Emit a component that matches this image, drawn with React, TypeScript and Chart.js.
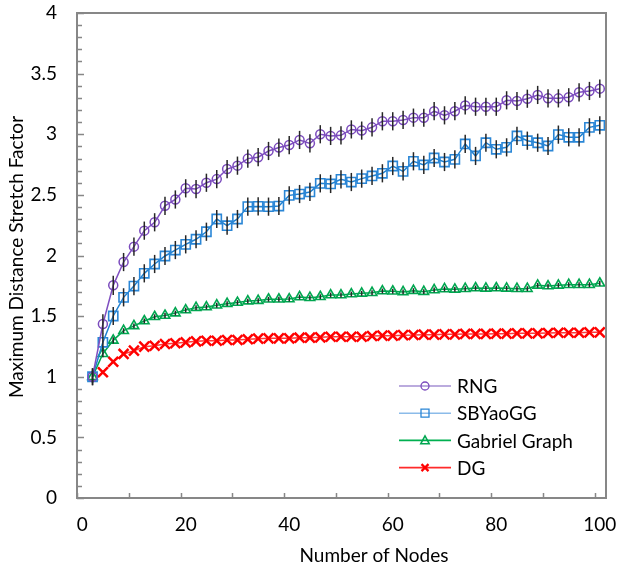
import { useEffect, useRef } from 'react';
import { Chart, registerables } from 'chart.js';

Chart.register(...registerables);

// ---- data ----
const nodes = [2, 4, 6, 8, 10, 12, 14, 16, 18, 20, 22, 24, 26, 28, 30, 32, 34, 36, 38, 40, 42, 44, 46, 48, 50, 52, 54, 56, 58, 60, 62, 64, 66, 68, 70, 72, 74, 76, 78, 80, 82, 84, 86, 88, 90, 92, 94, 96, 98, 100];
const dgNodes = [4, 6, 8, 10, 12, 14, 16, 18, 20, 22, 24, 26, 28, 30, 32, 34, 36, 38, 40, 42, 44, 46, 48, 50, 52, 54, 56, 58, 60, 62, 64, 66, 68, 70, 72, 74, 76, 78, 80, 82, 84, 86, 88, 90, 92, 94, 96, 98, 100];

const rngValues = [1.0, 1.435, 1.754, 1.946, 2.073, 2.205, 2.274, 2.41, 2.462, 2.554, 2.548, 2.6, 2.63, 2.713, 2.741, 2.799, 2.811, 2.862, 2.89, 2.911, 2.953, 2.925, 3.0, 2.986, 2.991, 3.04, 3.03, 3.057, 3.107, 3.107, 3.118, 3.137, 3.136, 3.19, 3.156, 3.19, 3.238, 3.227, 3.227, 3.227, 3.28, 3.274, 3.293, 3.324, 3.296, 3.296, 3.305, 3.346, 3.357, 3.376];
const sbyaoValues = [1.0, 1.284, 1.501, 1.655, 1.748, 1.853, 1.93, 1.996, 2.045, 2.092, 2.134, 2.196, 2.301, 2.246, 2.301, 2.403, 2.405, 2.403, 2.408, 2.496, 2.507, 2.524, 2.595, 2.59, 2.628, 2.606, 2.634, 2.656, 2.678, 2.738, 2.694, 2.777, 2.747, 2.804, 2.771, 2.793, 2.92, 2.821, 2.93, 2.876, 2.892, 2.986, 2.947, 2.93, 2.903, 2.997, 2.975, 2.975, 3.057, 3.074];
const gabrielValues = [1.0, 1.19, 1.3, 1.38, 1.42, 1.46, 1.495, 1.505, 1.525, 1.55, 1.57, 1.575, 1.59, 1.603, 1.612, 1.624, 1.628, 1.639, 1.639, 1.641, 1.658, 1.652, 1.66, 1.674, 1.674, 1.682, 1.688, 1.693, 1.707, 1.705, 1.7, 1.71, 1.702, 1.716, 1.724, 1.721, 1.726, 1.732, 1.729, 1.732, 1.729, 1.726, 1.726, 1.754, 1.748, 1.754, 1.759, 1.759, 1.759, 1.771];
const dgValues = [1.037, 1.124, 1.188, 1.215, 1.248, 1.256, 1.27, 1.276, 1.284, 1.292, 1.297, 1.297, 1.303, 1.303, 1.309, 1.314, 1.317, 1.317, 1.317, 1.322, 1.322, 1.325, 1.33, 1.33, 1.33, 1.33, 1.336, 1.339, 1.339, 1.343, 1.344, 1.347, 1.347, 1.35, 1.35, 1.353, 1.353, 1.353, 1.355, 1.355, 1.358, 1.358, 1.358, 1.361, 1.363, 1.363, 1.363, 1.366, 1.366];

// error bar half-widths
const rngError = [0.07, 0.08, 0.08, 0.075, 0.075, 0.075, 0.075, 0.075, 0.075, 0.075, 0.075, 0.075, 0.075, 0.075, 0.075, 0.075, 0.075, 0.075, 0.075, 0.075, 0.075, 0.075, 0.075, 0.075, 0.075, 0.075, 0.075, 0.075, 0.075, 0.075, 0.075, 0.075, 0.075, 0.075, 0.075, 0.075, 0.075, 0.075, 0.075, 0.075, 0.075, 0.075, 0.075, 0.075, 0.075, 0.075, 0.075, 0.075, 0.075, 0.075];
const sbyaoError = [0.07, 0.075, 0.075, 0.075, 0.075, 0.075, 0.075, 0.075, 0.075, 0.075, 0.075, 0.075, 0.075, 0.075, 0.075, 0.075, 0.075, 0.075, 0.075, 0.075, 0.075, 0.075, 0.075, 0.075, 0.075, 0.075, 0.075, 0.075, 0.075, 0.075, 0.075, 0.075, 0.075, 0.075, 0.075, 0.075, 0.075, 0.075, 0.075, 0.075, 0.075, 0.075, 0.075, 0.075, 0.075, 0.075, 0.075, 0.075, 0.075, 0.075];
const gabrielError = [0.05, 0.03, 0.025, 0.02, 0.02, 0.02, 0.02, 0.02, 0.02, 0.02, 0.02, 0.02, 0.02, 0.02, 0.02, 0.02, 0.02, 0.02, 0.02, 0.02, 0.02, 0.02, 0.02, 0.02, 0.02, 0.02, 0.02, 0.02, 0.02, 0.02, 0.02, 0.02, 0.02, 0.02, 0.02, 0.02, 0.02, 0.02, 0.02, 0.02, 0.02, 0.02, 0.02, 0.02, 0.02, 0.02, 0.02, 0.02, 0.02, 0.02];

const seriesNames = ['RNG', 'SBYaoGG', 'Gabriel Graph', 'DG'];
const xTickLabels = [0, 20, 40, 60, 80, 100];
const xTitle = 'Number of Nodes';
const yTitle = 'Maximum Distance Stretch Factor';

const FONT_FAMILY = 'Lato, "Open Sans", sans-serif';
const FONT_SIZE = 19;
const AXIS_COLOR = '#878787';

const toPoints = (xs: number[], ys: number[]) => xs.map((x, i) => ({ x, y: ys[i] }));

function drawMarker(ctx: CanvasRenderingContext2D, style: string, x: number, y: number, r: number) {
  ctx.beginPath();
  if (style === 'circle') {
    ctx.arc(x, y, r, 0, Math.PI * 2);
  } else if (style === 'rect') {
    ctx.rect(x - r, y - r, 2 * r, 2 * r);
  } else if (style === 'triangle') {
    ctx.moveTo(x, y - r);
    ctx.lineTo(x + r * 0.95, y + r * 0.75);
    ctx.lineTo(x - r * 0.95, y + r * 0.75);
    ctx.closePath();
  } else {
    ctx.moveTo(x - r, y - r);
    ctx.lineTo(x + r, y + r);
    ctx.moveTo(x + r, y - r);
    ctx.lineTo(x - r, y + r);
  }
  ctx.stroke();
}

export default function App() {
  const ref = useRef<HTMLCanvasElement>(null);

  useEffect(() => {
    const canvas = ref.current;
    if (!canvas) return;

    const errorMap: Record<number, number[]> = { 0: rngError, 1: sbyaoError, 2: gabrielError };

    const legendItems = [
      { name: seriesNames[0], line: '#a58fd3', marker: '#7b4bbd', style: 'circle', r: 4, w: 1.3 },
      { name: seriesNames[1], line: '#8bbbe9', marker: '#2a86d6', style: 'rect', r: 4, w: 1.3 },
      { name: seriesNames[2], line: '#00b050', marker: '#00a650', style: 'triangle', r: 4.5, w: 1.5 },
      { name: seriesNames[3], line: '#ff2b2b', marker: '#ff0000', style: 'cross', r: 3.5, w: 2.2 },
    ];

    const decor = {
      id: 'decor',
      afterDatasetsDraw(chart: any) {
        const ctx = chart.ctx as CanvasRenderingContext2D;
        const ys = chart.scales.y;
        ctx.save();
        ctx.strokeStyle = '#262626';
        ctx.lineWidth = 1.5;
        chart.data.datasets.forEach((ds: any, i: number) => {
          const errs = errorMap[i];
          if (!errs) return;
          const meta = chart.getDatasetMeta(i);
          meta.data.forEach((el: any, j: number) => {
            const v = ds.data[j].y;
            const e = errs[j];
            ctx.beginPath();
            ctx.moveTo(el.x, ys.getPixelForValue(v + e));
            ctx.lineTo(el.x, ys.getPixelForValue(v - e));
            ctx.stroke();
          });
        });
        ctx.restore();
      },
      afterDraw(chart: any) {
        const ctx = chart.ctx as CanvasRenderingContext2D;
        const a = chart.chartArea;
        const xs = chart.scales.x;
        const ys = chart.scales.y;
        ctx.save();
        // frame
        ctx.strokeStyle = AXIS_COLOR;
        ctx.lineWidth = 2;
        ctx.strokeRect(a.left, a.top, a.right - a.left, a.bottom - a.top);
        // y ticks (inward)
        ctx.lineWidth = 1.5;
        for (let k = 0; k <= 40; k++) {
          const v = k / 10;
          const py = Math.round(ys.getPixelForValue(v)) + 0.5;
          const len = k % 5 === 0 ? 7 : 5;
          ctx.beginPath();
          ctx.moveTo(a.left, py);
          ctx.lineTo(a.left + len, py);
          ctx.stroke();
        }
        // x ticks (inward)
        for (let k = 0; k <= 10; k++) {
          const v = k * 10 - 1;
          const px = Math.round(xs.getPixelForValue(v)) + 0.5;
          ctx.beginPath();
          ctx.moveTo(px, a.bottom);
          ctx.lineTo(px, a.bottom - 5);
          ctx.stroke();
        }
        // legend
        ctx.font = `${FONT_SIZE}px ${FONT_FAMILY}`;
        ctx.textBaseline = 'middle';
        ctx.textAlign = 'left';
        legendItems.forEach((it, i) => {
          const cy = 386 + i * 27.2;
          ctx.strokeStyle = it.line;
          ctx.lineWidth = 1.6;
          ctx.beginPath();
          ctx.moveTo(399, cy);
          ctx.lineTo(451, cy);
          ctx.stroke();
          ctx.strokeStyle = it.marker;
          ctx.lineWidth = it.w;
          drawMarker(ctx, it.style, 425, cy, it.r);
          ctx.fillStyle = '#000';
          ctx.fillText(it.name, 457, cy + 1);
        });
        // axis titles
        ctx.fillStyle = '#000';
        ctx.textAlign = 'center';
        ctx.fillText(xTitle, 374, 556);
        ctx.translate(17, 257);
        ctx.rotate(-Math.PI / 2);
        ctx.fillText(yTitle, 0, 0);
        ctx.restore();
      },
    };

    const chart = new Chart(canvas, {
      type: 'line',
      data: {
        datasets: [
          {
            label: seriesNames[0],
            data: toPoints(nodes, rngValues),
            borderColor: '#7f4fc0',
            borderWidth: 1.5,
            pointStyle: 'circle',
            pointRadius: 4.5,
            pointBorderWidth: 1.5,
            pointBorderColor: '#7b4bbd',
            pointBackgroundColor: 'rgba(0,0,0,0)',
            fill: false,
            tension: 0,
          },
          {
            label: seriesNames[1],
            data: toPoints(nodes, sbyaoValues),
            borderColor: '#1f80d0',
            borderWidth: 1.5,
            pointStyle: 'rect',
            pointRadius: 6.5,
            pointBorderWidth: 1.6,
            pointBorderColor: '#2a86d6',
            pointBackgroundColor: 'rgba(0,0,0,0)',
            fill: false,
            tension: 0,
          },
          {
            label: seriesNames[2],
            data: toPoints(nodes, gabrielValues),
            borderColor: '#00a650',
            borderWidth: 1.5,
            pointStyle: 'triangle',
            pointRadius: 5.5,
            pointBorderWidth: 1.6,
            pointBorderColor: '#00a650',
            pointBackgroundColor: 'rgba(0,0,0,0)',
            fill: false,
            tension: 0,
          },
          {
            label: seriesNames[3],
            data: toPoints(dgNodes, dgValues),
            borderColor: '#ff3b3b',
            borderWidth: 1.5,
            pointStyle: 'crossRot',
            pointRadius: 7,
            pointBorderWidth: 2.5,
            pointBorderColor: '#ff0000',
            pointBackgroundColor: 'rgba(0,0,0,0)',
            fill: false,
            tension: 0,
          },
        ],
      },
      options: {
        animation: false,
        responsive: false,
        devicePixelRatio: 1,
        layout: { padding: { top: 13, right: 12, left: 0, bottom: 0 } },
        plugins: {
          legend: { display: false },
          tooltip: { enabled: false },
        },
        events: [],
        scales: {
          x: {
            type: 'linear',
            min: -1,
            max: 101.2,
            afterBuildTicks: (s: any) => {
              s.ticks = xTickLabels.map((v) => ({ value: v }));
            },
            afterFit: (s: any) => {
              s.height = 69;
              s.paddingLeft = 0;
              s.paddingRight = 0;
            },
            grid: { display: false, drawTicks: false },
            border: { display: false },
            ticks: {
              autoSkip: false,
              maxRotation: 0,
              padding: 15,
              color: '#000',
              font: { family: FONT_FAMILY, size: FONT_SIZE },
            },
          },
          y: {
            type: 'linear',
            min: 0,
            max: 4,
            afterFit: (s: any) => {
              s.width = 77;
              s.paddingTop = 0;
              s.paddingBottom = 0;
            },
            grid: { display: false, drawTicks: false },
            border: { display: false },
            ticks: {
              stepSize: 0.5,
              padding: 20,
              color: '#000',
              font: { family: FONT_FAMILY, size: FONT_SIZE },
              callback: (v: any) => String(Number(v)),
            },
          },
        },
      },
      plugins: [decor],
    } as any);

    return () => chart.destroy();
  }, []);

  return (
    <div style={{ position: 'fixed', left: 0, top: 0, width: 618, height: 567, background: '#fff' }}>
      <canvas ref={ref} width={618} height={567} style={{ width: 618, height: 567, display: 'block' }} />
    </div>
  );
}
